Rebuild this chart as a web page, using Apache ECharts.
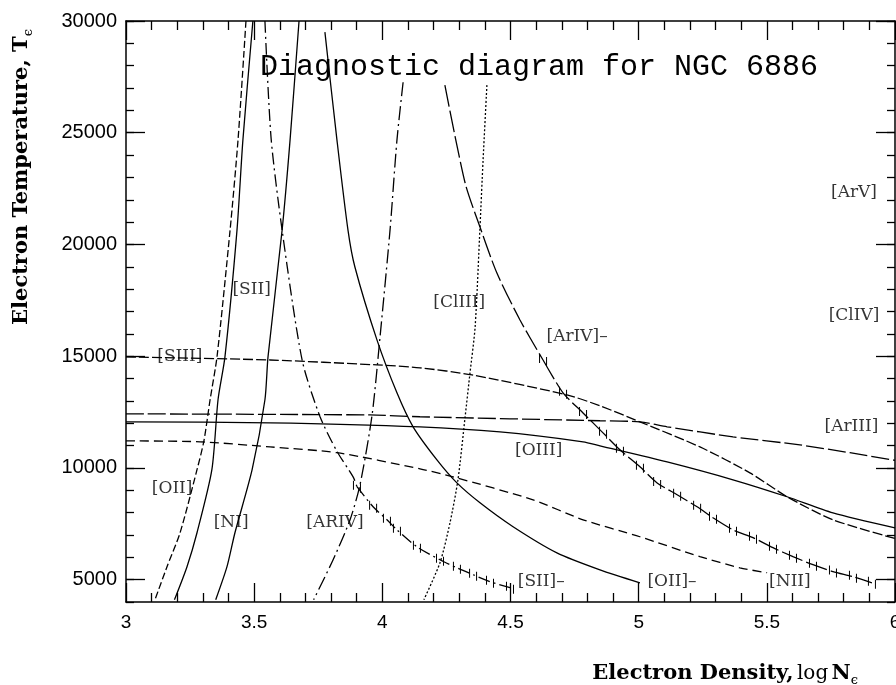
<!DOCTYPE html>
<html>
<head>
<meta charset="utf-8">
<script src="https://cdn.jsdelivr.net/npm/echarts@6/dist/echarts.min.js"></script>
<style>
html, body { margin: 0; padding: 0; background: #fff; }
#chart { width: 896px; height: 685px; }
</style>
</head>
<body>
<div id="chart"></div>
<script>
// curves, each point is [log Ne, Te]
// density-sensitive ratios (steep, left)
var oiiLow = [[3.468, 30000], [3.437, 24670], [3.406, 20640], [3.355, 14970], [3.328, 13050], [3.304, 11210], [3.277, 9920], [3.211, 7100], [3.160, 5580], [3.113, 4100]];
var siiLow = [[3.495, 30000], [3.456, 24670], [3.433, 20640], [3.386, 14970], [3.359, 13050], [3.335, 9920], [3.277, 7100], [3.238, 5580], [3.189, 4100]];
var niLow = [[3.675, 30000], [3.640, 24670], [3.609, 20640], [3.554, 14970], [3.542, 13050], [3.492, 9920], [3.425, 7100], [3.394, 5580], [3.350, 4100]];
var arivLow = [[4.081, 27260], [4.057, 24670], [4.030, 20640], [3.991, 15860], [3.960, 12370], [3.913, 9250], [3.874, 7680], [3.808, 5890], [3.732, 4100]];
var cliii = [[4.408, 27130], [4.393, 23770], [4.381, 20780], [4.362, 16310], [4.342, 14250], [4.323, 12290], [4.295, 9470], [4.264, 7550], [4.225, 5760], [4.162, 4100]];

// descending curves (the hatched part is split off)
var siiTemp = [[3.542, 30000], [3.566, 24760], [3.609, 20640], [3.687, 14830], [3.757, 12290], [3.823, 10740], [3.886, 9600], [3.901, 9160]];
var siiTempHatch = [[3.901, 9160], [3.964, 8260], [4.018, 7680], [4.057, 7230], [4.135, 6470], [4.225, 5890], [4.291, 5530], [4.354, 5220], [4.420, 4910], [4.498, 4640]];
var oiiTemp = [[3.776, 29500], [3.823, 24670], [3.866, 20640], [3.893, 18990], [3.979, 15730], [4.057, 13360], [4.120, 11840], [4.213, 10360], [4.291, 9330], [4.381, 8440], [4.510, 7370], [4.681, 6200], [4.849, 5440], [5.005, 4860]];
var arivTemp = [[4.244, 27130], [4.323, 22750], [4.381, 20780], [4.447, 18720], [4.537, 16620], [4.627, 14830]];
var arivTempHatch = [[4.627, 14830], [4.705, 13360], [4.783, 12460], [4.861, 11570], [4.927, 10810], [5.005, 10050], [5.072, 9330], [5.150, 8800], [5.228, 8260], [5.290, 7770], [5.368, 7230], [5.446, 6880], [5.524, 6430], [5.602, 6030], [5.680, 5670], [5.758, 5360], [5.836, 5130], [5.910, 4860]];

// temperature-sensitive ratios (flat)
var siii = [[3.0, 14970], [3.562, 14830], [3.979, 14610], [4.147, 14480], [4.350, 14160], [4.720, 13270], [4.849, 12780], [5.005, 12060], [5.239, 10940], [5.434, 9780], [5.579, 8710], [5.758, 7680], [6.0, 6840]];
var ariii = [[3.0, 12420], [3.952, 12370], [4.147, 12290], [4.849, 12110], [5.005, 12060], [5.111, 11840], [5.368, 11390], [5.629, 11030], [5.824, 10680], [6.0, 10340]];
var oiii = [[3.0, 12060], [3.562, 12020], [4.147, 11840], [4.459, 11610], [4.783, 11170], [4.849, 10990], [5.111, 10270], [5.368, 9470], [5.579, 8710], [5.758, 7990], [6.0, 7320]];
var nii = [[3.0, 11210], [3.289, 11170], [3.562, 10940], [3.823, 10680], [4.147, 9960], [4.276, 9600], [4.588, 8570], [4.783, 7680], [5.005, 6920], [5.239, 6030], [5.395, 5530], [5.501, 5310]];

// ion labels placed in data coordinates
var lineLabels = [
  [3.49, 17960, '[SII]'],
  [3.21, 14970, '[SIII]'],
  [3.18, 9070, '[OII]'],
  [3.41, 7550, '[NI]'],
  [3.815, 7550, '[ARIV]'],
  [4.30, 17380, '[ClIII]'],
  [4.76, 15900, '[ArIV]–'],
  [4.61, 10770, '[OIII]'],
  [4.62, 4910, '[SII]–'],
  [5.13, 4910, '[OII]–'],
  [5.59, 4910, '[NII]'],
  [5.84, 22300, '[ArV]'],
  [5.84, 16800, '[ClIV]'],
  [5.83, 11840, '[ArIII]']
];

var yMajor = [5000, 10000, 15000, 20000, 25000, 30000];

var hatchSymbol = 'path://M0,0h1v9h-1zM7,3h1v9h-1z';

function curve(name, data, dash, hatch) {
  var s = {
    name: name,
    type: 'line',
    data: data,
    smooth: 0.25,
    showSymbol: false,
    silent: true,
    lineStyle: { color: '#000', width: 1.3, type: dash }
  };
  if (hatch) {
    s.showSymbol = true;
    s.symbol = hatchSymbol;
    s.symbolSize = [8, 12];
    s.itemStyle = { color: '#000' };
  }
  return s;
}

var tickStyle = { color: '#000', width: 1.3 };
var axisLine = { lineStyle: { color: '#000', width: 1.5 }, onZero: false };

var chart = echarts.init(document.getElementById('chart'));
chart.setOption({
  animation: false,
  backgroundColor: '#fff',
  grid: { left: 126, right: 1, top: 21, bottom: 83, containLabel: false, outerBoundsMode: 'none' },
  xAxis: [
    {
      type: 'value', position: 'bottom', min: 3, max: 6, interval: 0.5,
      axisLine: axisLine,
      axisTick: { inside: true, length: 19, lineStyle: tickStyle },
      minorTick: { show: true, splitNumber: 5, length: 9, lineStyle: tickStyle },
      splitLine: { show: false },
      axisLabel: { color: '#000', fontSize: 19, fontFamily: 'Liberation Sans', margin: 11 }
    },
    {
      type: 'value', position: 'top', min: 3, max: 6, interval: 0.5,
      axisLine: axisLine,
      axisTick: { inside: true, length: 19, lineStyle: tickStyle },
      minorTick: { show: true, splitNumber: 5, length: 9, lineStyle: tickStyle },
      splitLine: { show: false },
      axisLabel: { show: false }
    }
  ],
  yAxis: [
    {
      type: 'value', position: 'left', min: 4000, max: 30000, interval: 1000,
      axisLine: axisLine,
      axisTick: { inside: true, length: 8, lineStyle: tickStyle },
      splitLine: { show: false },
      axisLabel: {
        color: '#000', fontSize: 20, fontFamily: 'Liberation Sans', margin: 9,
        formatter: function (v) { return v % 5000 === 0 ? String(v) : ''; }
      }
    },
    {
      type: 'value', position: 'left', min: 4000, max: 30000,
      axisLine: { show: false },
      axisTick: { inside: true, length: 19, lineStyle: tickStyle, customValues: yMajor },
      splitLine: { show: false },
      axisLabel: { show: false }
    },
    {
      type: 'value', position: 'right', min: 4000, max: 30000, interval: 1000,
      axisLine: axisLine,
      axisTick: { inside: true, length: 8, lineStyle: tickStyle },
      splitLine: { show: false },
      axisLabel: { show: false }
    },
    {
      type: 'value', position: 'right', min: 4000, max: 30000,
      axisLine: { show: false },
      axisTick: { inside: true, length: 19, lineStyle: tickStyle, customValues: yMajor },
      splitLine: { show: false },
      axisLabel: { show: false }
    }
  ],
  graphic: [
    {
      type: 'text', x: 260, y: 67,
      style: {
        text: 'Diagnostic diagram for NGC 6886',
        font: '30px "Liberation Mono"', fill: '#000',
        textAlign: 'left', textVerticalAlign: 'middle'
      }
    },
    {
      type: 'text', x: 858, y: 674,
      style: {
        text: '{b|Electron Density,} {r|log} {b|N}{s|ϵ}',
        textAlign: 'right', textVerticalAlign: 'middle', fill: '#000',
        rich: {
          b: { fontFamily: 'DejaVu Serif', fontWeight: 'bold', fontSize: 21, lineHeight: 26 },
          r: { fontFamily: 'DejaVu Serif', fontSize: 20, lineHeight: 26 },
          s: { fontFamily: 'DejaVu Serif', fontSize: 13, lineHeight: 13, verticalAlign: 'bottom' }
        }
      }
    },
    {
      type: 'text', x: 22, y: 177, rotation: Math.PI / 2,
      style: {
        text: '{b|Electron Temperature, T}{s|ϵ}',
        textAlign: 'center', textVerticalAlign: 'middle', fill: '#000',
        rich: {
          b: { fontFamily: 'DejaVu Serif', fontWeight: 'bold', fontSize: 21, lineHeight: 26 },
          s: { fontFamily: 'DejaVu Serif', fontSize: 13, lineHeight: 13, verticalAlign: 'bottom' }
        }
      }
    }
  ],
  series: [
    curve('[OII] low', oiiLow, [7, 3]),
    curve('[SII] low', siiLow, 'solid'),
    curve('[NI]', niLow, 'solid'),
    curve('[ARIV] low', arivLow, [14, 4, 2, 4]),
    curve('[ClIII]', cliii, [2, 2]),
    curve('[SII]-', siiTemp, [12, 4, 2, 4]),
    curve('[SII]- hatch', siiTempHatch, [12, 4, 2, 4], true),
    curve('[OII]-', oiiTemp, 'solid'),
    curve('[ArIV]-', arivTemp, [22, 4]),
    curve('[ArIV]- hatch', arivTempHatch, [22, 4], true),
    curve('[SIII]', siii, [10, 3]),
    curve('[ArIII]', ariii, [18, 4]),
    curve('[OIII]', oiii, 'solid'),
    curve('[NII]', nii, [9, 5]),
    {
      name: 'labels',
      type: 'scatter',
      data: lineLabels,
      symbolSize: 1,
      silent: true,
      z: 5,
      itemStyle: { color: 'rgba(0,0,0,0)' },
      label: {
        show: true, position: 'inside',
        formatter: function (p) { return p.data[2]; },
        fontFamily: 'DejaVu Serif', fontSize: 17, color: '#000'
      }
    }
  ]
});
</script>
</body>
</html>
